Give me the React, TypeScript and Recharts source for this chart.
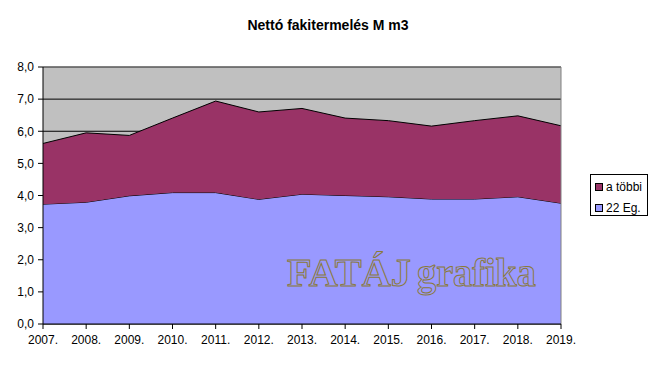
import { AreaChart, Area, XAxis, YAxis, CartesianGrid, ReferenceLine } from 'recharts'

const years = ['2007.', '2008.', '2009.', '2010.', '2011.', '2012.', '2013.', '2014.', '2015.', '2016.', '2017.', '2018.', '2019.']
const eg22 = [3.73, 3.79, 3.99, 4.09, 4.09, 3.88, 4.04, 4.0, 3.96, 3.89, 3.89, 3.96, 3.76]
const tobbi = [1.89, 2.16, 1.88, 2.32, 2.85, 2.72, 2.67, 2.41, 2.37, 2.27, 2.44, 2.52, 2.41]
const yTicks = [0, 1, 2, 3, 4, 5, 6, 7, 8]

const data = years.map((name, i) => ({ name, eg22: eg22[i], tobbi: tobbi[i] }))

const font = 'Arial, "Liberation Sans", sans-serif'
const serif = '"Liberation Serif", "Times New Roman", serif'

const legendItems = [
  { label: 'a többi', color: '#993366' },
  { label: '22 Eg.', color: '#9999FF' },
]

export default function App() {
  return (
    <div style={{ position: 'relative', width: 656, height: 367, background: '#fff', fontFamily: font }}>
      <style>{'body{margin:0}'}</style>
      <div
        style={{
          position: 'absolute',
          top: 17,
          left: 0,
          width: 656,
          textAlign: 'center',
          fontWeight: 'bold',
          fontSize: 14,
          lineHeight: '16px',
          color: '#000',
        }}
      >
        Nettó fakitermelés M m3
      </div>
      <AreaChart width={656} height={367} data={data} margin={{ top: 67, right: 95, bottom: 13, left: 0 }}>
        <CartesianGrid vertical={false} stroke="#000" fill="#C0C0C0" fillOpacity={1} />
        <XAxis
          dataKey="name"
          stroke="#000"
          tick={{ fill: '#000', fontSize: 12, fontFamily: font }}
          tickSize={5}
          tickMargin={6}
          height={30}
          interval={0}
        />
        <YAxis
          domain={[0, 8]}
          ticks={yTicks}
          tickFormatter={(v: number) => v.toFixed(1).replace('.', ',')}
          stroke="#000"
          tick={{ fill: '#000', fontSize: 12, fontFamily: font }}
          tickSize={5}
          tickMargin={4}
          width={43}
        />
        <Area
          type="linear"
          dataKey="eg22"
          name="22 Eg."
          stackId="a"
          fill="#9999FF"
          fillOpacity={1}
          stroke="#000"
          strokeWidth={1}
          isAnimationActive={false}
        />
        <Area
          type="linear"
          dataKey="tobbi"
          name="a többi"
          stackId="a"
          fill="#993366"
          fillOpacity={1}
          stroke="#000"
          strokeWidth={1}
          isAnimationActive={false}
        />
        <ReferenceLine y={8} stroke="#808080" />
        <ReferenceLine x="2019." stroke="#808080" />
      </AreaChart>
      {/* watermark */}
      <svg width={656} height={367} style={{ position: 'absolute', left: 0, top: 0, pointerEvents: 'none' }}>
        <g fontFamily={serif} fontWeight="bold" fontSize={40} fill="none" stroke="#8a7a3a" strokeWidth={1}>
          <text x={287} y={286} textLength={124} lengthAdjust="spacingAndGlyphs">FATÁJ</text>
          <text x={417} y={286} textLength={119} lengthAdjust="spacingAndGlyphs">grafika</text>
        </g>
      </svg>
      <div
        style={{
          position: 'absolute',
          left: 590,
          top: 174,
          width: 56,
          height: 40,
          border: '1px solid #000',
          background: '#fff',
          fontSize: 12,
        }}
      >
        {legendItems.map((it, i) => (
          <div
            key={it.label}
            style={{ position: 'absolute', left: 4, top: 4 + i * 21, display: 'flex', alignItems: 'center', height: 15 }}
          >
            <span
              style={{ display: 'inline-block', width: 6, height: 6, border: '1px solid #000', background: it.color, marginRight: 3 }}
            />
            <span>{it.label}</span>
          </div>
        ))}
      </div>
    </div>
  )
}
